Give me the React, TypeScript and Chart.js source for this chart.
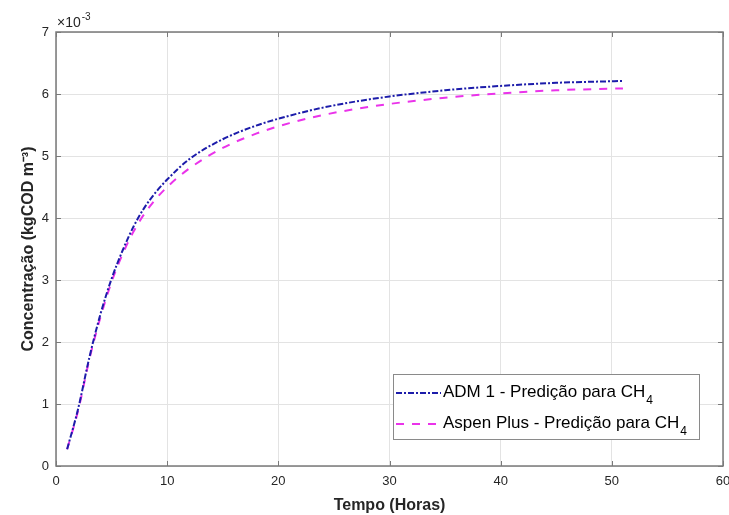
import React, { useEffect, useRef } from "react";
import { Chart, registerables } from "chart.js";

Chart.register(...registerables);

// ---- data ----
const hours = [1, 2, 3, 4, 5, 6, 7, 8, 9, 10, 12, 15, 18, 21, 24, 27, 30, 35, 40, 45, 51];
const admValues = [0.27, 0.93, 1.75, 2.45, 3.02, 3.48, 3.87, 4.18, 4.42, 4.62, 4.95, 5.27, 5.49, 5.65, 5.78, 5.88, 5.96, 6.06, 6.13, 6.18, 6.21];
const aspenValues = [0.27, 0.9, 1.72, 2.4, 2.97, 3.42, 3.79, 4.08, 4.31, 4.5, 4.8, 5.13, 5.36, 5.53, 5.66, 5.76, 5.84, 5.94, 6.01, 6.06, 6.09];
const seriesLabels = ["ADM 1 - Predição para CH₄", "Aspen Plus - Predição para CH₄"];
const xTitle = "Tempo (Horas)";
const yTitle = "Concentração (kgCOD m⁻³)";
const exponentBase = "×10";
const exponentPower = "-3";

const FONT = "'Liberation Sans', Arial, Helvetica, sans-serif";
const TEXT = "#262626";
const AXIS = "#7a7a7a";

const boxPlugin = {
  id: "matlabBox",
  afterDraw(chart: any) {
    const { ctx, chartArea } = chart;
    const xs = chart.scales.x;
    const ys = chart.scales.y;
    const { left, right, top, bottom } = chartArea;
    ctx.save();
    ctx.strokeStyle = AXIS;
    ctx.lineWidth = 1.5;
    ctx.setLineDash([]);
    ctx.strokeRect(left, top, right - left, bottom - top);
    ctx.lineWidth = 1;
    const tl = 5;
    xs.ticks.forEach((t: any) => {
      const px = Math.round(xs.getPixelForValue(t.value)) + 0.5;
      ctx.beginPath();
      ctx.moveTo(px, bottom);
      ctx.lineTo(px, bottom - tl);
      ctx.moveTo(px, top);
      ctx.lineTo(px, top + tl);
      ctx.stroke();
    });
    ys.ticks.forEach((t: any) => {
      const py = Math.round(ys.getPixelForValue(t.value)) + 0.5;
      ctx.beginPath();
      ctx.moveTo(left, py);
      ctx.lineTo(left + tl, py);
      ctx.moveTo(right, py);
      ctx.lineTo(right - tl, py);
      ctx.stroke();
    });
    // exponent label
    ctx.fillStyle = TEXT;
    ctx.textAlign = "left";
    ctx.textBaseline = "alphabetic";
    ctx.font = `14px ${FONT}`;
    ctx.fillText(exponentBase, left + 1, top - 5);
    const w = ctx.measureText(exponentBase).width;
    ctx.font = `10px ${FONT}`;
    ctx.fillText(exponentPower, left + 2 + w, top - 12);

    // legend
    const lw = 306;
    const lh = 65;
    const x0 = right - 24 - lw;
    const y0 = bottom - 27 - lh;
    ctx.fillStyle = "#ffffff";
    ctx.fillRect(x0, y0, lw, lh);
    ctx.strokeStyle = "#8a8a8a";
    ctx.lineWidth = 1;
    ctx.strokeRect(x0 + 0.5, y0 + 0.5, lw, lh);
    chart.data.datasets.forEach((ds: any, i: number) => {
      const base = y0 + 23 + i * 31;
      const cy = base - 4;
      ctx.save();
      ctx.strokeStyle = ds.borderColor;
      ctx.lineWidth = 2;
      ctx.setLineDash(ds.borderDash || []);
      ctx.beginPath();
      ctx.moveTo(x0 + 3, cy);
      ctx.lineTo(x0 + 48, cy);
      ctx.stroke();
      ctx.restore();
      let label: string = ds.label;
      let sub = "";
      const m = label.match(/[₀-₉]+$/);
      if (m) {
        sub = m[0].replace(/[₀-₉]/g, (c) => String(c.charCodeAt(0) - 0x2080));
        label = label.slice(0, label.length - m[0].length);
      }
      ctx.fillStyle = "#000000";
      ctx.font = `17px ${FONT}`;
      ctx.textAlign = "left";
      ctx.textBaseline = "alphabetic";
      ctx.fillText(label, x0 + 50, base);
      if (sub) {
        const tw = ctx.measureText(label).width;
        ctx.font = `12px ${FONT}`;
        ctx.fillText(sub, x0 + 51 + tw, base + 7);
      }
    });
    ctx.restore();
  },
};

export default function App() {
  const ref = useRef<HTMLCanvasElement | null>(null);
  useEffect(() => {
    if (!ref.current) return;
    Chart.defaults.font.family = FONT;
    const chart = new Chart(ref.current, {
      type: "line",
      data: {
        datasets: [
          {
            label: seriesLabels[0],
            data: hours.map((h, i) => ({ x: h, y: admValues[i] })),
            borderColor: "#1c1caa",
            borderWidth: 2,
            borderDash: [6, 2, 2, 2],
            pointRadius: 0,
            cubicInterpolationMode: "monotone",
            fill: false,
          },
          {
            label: seriesLabels[1],
            data: hours.map((h, i) => ({ x: h, y: aspenValues[i] })),
            borderColor: "#ea33ea",
            borderWidth: 2,
            borderDash: [8, 8],
            pointRadius: 0,
            cubicInterpolationMode: "monotone",
            fill: false,
          },
        ],
      },
      options: {
        animation: false,
        responsive: false,
        devicePixelRatio: 1,
        layout: { padding: { top: 32, right: 6, left: 0, bottom: 0 } },
        plugins: {
          legend: { display: false },
          tooltip: { enabled: false },
        },
        scales: {
          x: {
            type: "linear",
            min: 0,
            max: 60,
            ticks: { stepSize: 10, color: TEXT, font: { size: 13 }, padding: 8, maxRotation: 0 },
            grid: { color: "#e3e3e3", drawTicks: false },
            border: { display: false },
            title: {
              display: true,
              text: xTitle,
              color: TEXT,
              font: { size: 16, weight: "bold" },
              padding: { top: 0, bottom: 0 },
            },
            afterFit(scale: any) {
              scale.height = 49;
              scale.paddingLeft = 0;
              scale.paddingRight = 0;
            },
          },
          y: {
            type: "linear",
            min: 0,
            max: 7,
            ticks: { stepSize: 1, color: TEXT, font: { size: 13 }, padding: 7 },
            grid: { color: "#e3e3e3", drawTicks: false },
            border: { display: false },
            title: {
              display: true,
              text: yTitle,
              color: TEXT,
              font: { size: 16, weight: "bold" },
              padding: { top: 19, bottom: 0 },
            },
            afterFit(scale: any) {
              scale.width = 56;
              scale.paddingTop = 0;
              scale.paddingBottom = 0;
            },
          },
        },
      } as any,
      plugins: [boxPlugin],
    });
    return () => chart.destroy();
  }, []);
  return (
    <div style={{ position: "absolute", left: 0, top: 0, width: 729, height: 515, background: "#fff" }}>
      <canvas ref={ref} width={729} height={515} style={{ display: "block" }} />
    </div>
  );
}
